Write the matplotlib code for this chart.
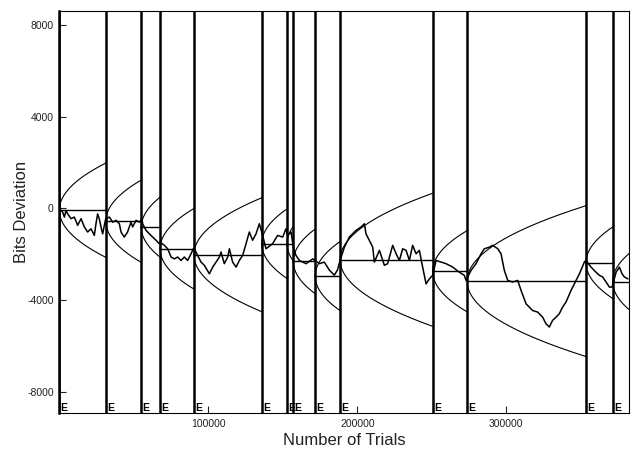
import numpy as np
import matplotlib.pyplot as plt

plt.rcParams['font.family'] = ['Liberation Sans', 'DejaVu Sans']

# segment starts (trials) and the baseline each segment is drawn from (bits)
seg_starts = [0, 31200, 55000, 67600, 90300, 135800, 152800, 157000,
              171700, 188400, 250500, 273600, 353400, 371300]
seg_baselines = [-80, -560, -820, -1760, -2020, -1540, -1540, -2310,
                 -2950, -2240, -2740, -3170, -2370, -3190]
seg_marks = ['E'] * len(seg_starts)
end_trial = 382500

# cumulative deviation trace (thousands of trials, bits)
trial_k = [0, 2.2, 3.4, 4.5, 5.6, 7.9, 10.1, 12.3, 14.6, 16.8, 19.0, 21.3, 23.5, 24.6, 25.7, 26.8, 28.0, 29.1, 30.9,
           31.3, 33.6, 35.8, 38.1, 40.3, 41.4, 43.6, 45.8, 48.1, 49.2, 51.5, 53.7, 55.5,
           55.9, 58.2, 61.5, 64.9, 67.1,
           67.6, 70.5, 72.7, 75.0, 77.2, 79.4, 81.7, 83.9, 86.1, 88.4, 89.9,
           90.6, 92.8, 95.1, 97.3, 100.7, 102.9, 105.2, 107.4, 108.5, 110.7, 113.0, 114.1, 116.3, 118.6,
           120.8, 123.0, 125.3, 127.5, 129.7, 132.0, 134.2, 135.8,
           138.7, 143.1, 146.5, 149.9, 152.1,
           153.2, 155.5, 157.0,
           158.8, 161.1, 165.6, 170.0, 171.6,
           174.5, 177.8, 181.2, 184.5, 186.6, 188.4,
           191.3, 194.6, 199.1, 202.5, 204.7, 205.8, 208.0, 210.3, 211.4, 214.8, 218.1, 220.3, 223.7,
           226.0, 228.2, 230.4, 232.7, 234.9, 237.1, 239.4, 241.6, 243.8, 246.1, 248.3, 250.5,
           252.8, 256.2, 259.5, 264.0, 268.4, 271.8, 272.9,
           276.3, 279.6, 283.0, 285.2, 288.6, 290.8, 294.2, 296.4, 298.6, 300.9, 304.2, 307.6, 309.8,
           313.2, 317.6, 321.0, 324.3, 326.6, 328.8, 331.0, 333.3, 335.5, 337.7, 340.0, 343.4, 346.7,
           349.0, 352.3, 353.4,
           356.8, 360.1, 362.4, 364.6, 366.9, 369.1, 370.9,
           373.6, 375.8, 377.6, 379.2, 381.4]
bits = [0, -160, -380, -90, -240, -450, -380, -740, -450, -810, -1030, -890, -1180, -670, -240, -450, -810, -1110, -520,
        -450, -380, -600, -520, -670, -1030, -1250, -1030, -600, -810, -520, -600, -450,
        -670, -960, -1180, -1390, -1540,
        -1470, -1610, -1760, -2120, -2200, -2120, -2270, -2120, -2270, -1980, -1760,
        -1760, -2050, -2340, -2480, -2850, -2560, -2340, -2120, -1900, -2410, -2120, -1760, -2340, -2560,
        -2270, -2050, -1540, -1030, -1390, -1110, -670, -1030,
        -1760, -1540, -1180, -1250, -890,
        -1180, -1030, -1690,
        -2050, -2270, -2410, -2200, -2270,
        -2410, -2340, -2690, -2910, -2690, -2270,
        -1690, -1250, -960, -810, -670, -1110, -1390, -1690, -2340, -1830, -2480, -2410, -1610,
        -1980, -2270, -1760, -1830, -2270, -1610, -1980, -1830, -2560, -3290, -3070, -2920,
        -2270, -2340, -2410, -2560, -2780, -2920, -3140,
        -2700, -2410, -1980, -1760, -1690, -1610, -1760, -1980, -2700, -3140, -3210, -3140, -3570,
        -4160, -4450, -4520, -4740, -5030, -5170, -4880, -4740, -4590, -4300, -4080, -3570, -3140,
        -2850, -2340, -2270,
        -2560, -2780, -2920, -2990, -3210, -3430, -3430,
        -2780, -2560, -2850, -2990, -3070]

x_ticks = [100000, 200000, 300000]
x_tick_labels = ['100000', '200000', '300000']
y_ticks = [-8000, -4000, 0, 4000, 8000]
y_tick_labels = ['-8000', '-4000', '0', '4000', '8000']

# envelope: 1.645 sigma, 200-bit trials -> sd of sqrt(50) bits per trial
env_z = 1.645
bit_sd = np.sqrt(50)

fig, ax = plt.subplots(figsize=(6.37, 4.5), dpi=100)
fig.subplots_adjust(left=0.0931, right=0.988, top=0.9756, bottom=0.0815)

ends = seg_starts[1:] + [end_trial]
for s, e, b, m in zip(seg_starts, ends, seg_baselines, seg_marks):
    n = np.linspace(0, e - s, 200)
    half = env_z * bit_sd * np.sqrt(n)
    ax.plot(s + n, b + half, color='black', lw=0.8)
    ax.plot(s + n, b - half, color='black', lw=0.8)
    ax.plot([s, e], [b, b], color='black', lw=1.0)
    ax.axvline(s, color='black', lw=1.8)
    ax.annotate(m, xy=(s, 0), xycoords=('data', 'axes fraction'), xytext=(1.0, 0.5),
                textcoords='offset points', fontsize=7.5, fontweight='bold', ha='left', va='bottom')

ax.plot(np.array(trial_k) * 1000, bits, color='black', lw=1.1)

ax.set_xlim(0, end_trial)
ax.set_ylim(-8930, 8600)
ax.set_xticks(x_ticks)
ax.set_xticklabels(x_tick_labels)
ax.set_yticks(y_ticks)
ax.set_yticklabels(y_tick_labels)
ax.tick_params(direction='in', length=5, width=0.8, labelsize=7.5, pad=4, colors='#222222')
for sp in ax.spines.values():
    sp.set_linewidth(0.8)
ax.spines['left'].set_linewidth(1.8)

ax.set_xlabel('Number of Trials', fontsize=12, color='#222222', labelpad=3)
ax.set_ylabel('Bits Deviation', fontsize=12, color='#222222', labelpad=-1)

plt.savefig('out.png', dpi=100)
